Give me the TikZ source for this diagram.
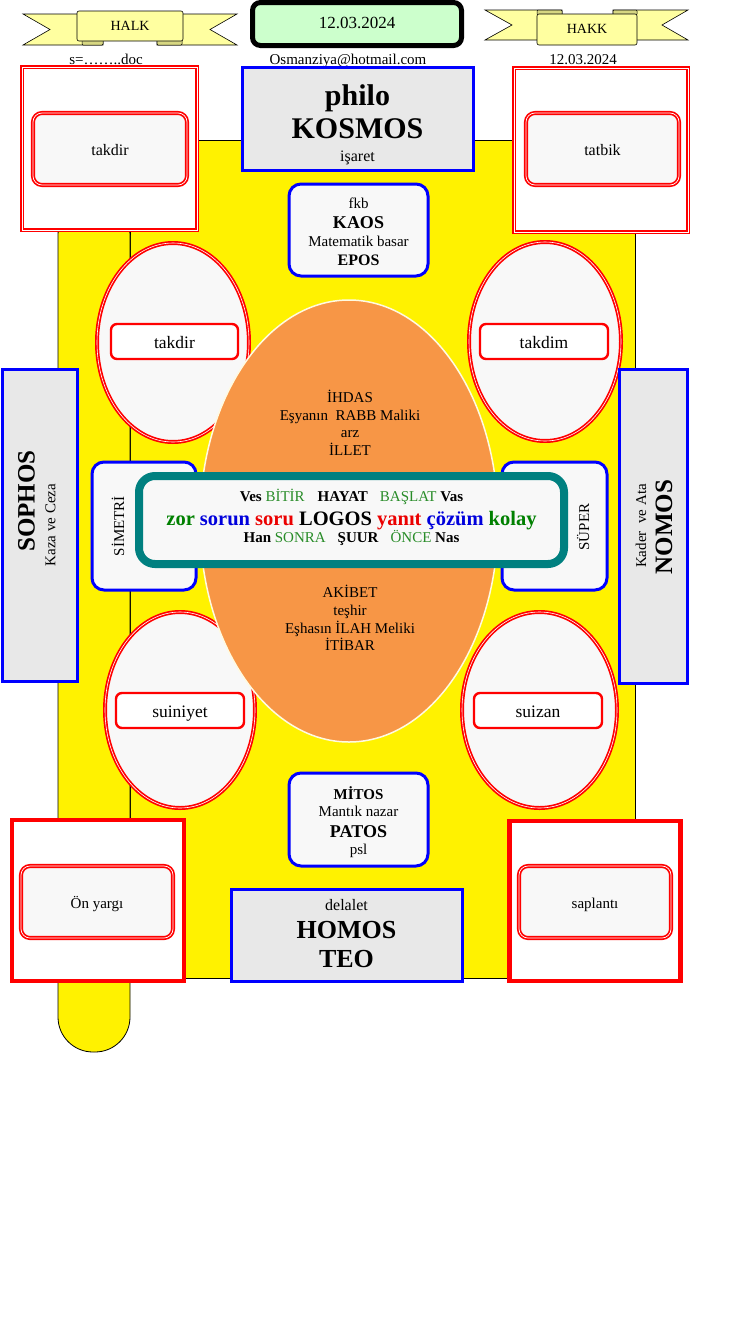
\documentclass[tikz,border=0pt]{standalone}
\usepackage{fontspec}
\setmainfont{Liberation Serif}
\usetikzlibrary{shapes.geometric,positioning}

\definecolor{ribbonfill}{RGB}{255,255,160}
\definecolor{foldfill}{RGB}{215,215,130}
\definecolor{datefill}{RGB}{204,255,204}
\definecolor{boxgray}{RGB}{232,232,232}
\definecolor{padfill}{RGB}{248,248,248}
\definecolor{eggorange}{RGB}{247,150,70}
\definecolor{eggrim}{RGB}{255,250,225}
\definecolor{logoteal}{RGB}{0,128,128}
\definecolor{wordgreen}{RGB}{0,128,0}
\definecolor{softgreen}{RGB}{40,140,40}
\definecolor{wordblue}{RGB}{0,0,220}
\definecolor{wordred}{RGB}{235,0,0}

\newcommand\fz[1]{\fontsize{#1}{#1}\selectfont}

\begin{document}
\begin{tikzpicture}[x=1pt,y=-1pt,
  txt/.style={inner sep=0pt, anchor=base},
  ribbon/.style={draw=black, line width=0.6pt, fill=ribbonfill},
  fold/.style={draw=black, line width=0.5pt, fill=foldfill, rounded corners=1pt},
  redframe/.style={draw=red, double=white, line width=1.8pt, double distance=0.7pt, fill=white, inner sep=0pt},
  redwall/.style={draw=red, line width=4.5pt, fill=white, inner sep=0pt},
  redpad/.style={draw=red, double=white, line width=1.7pt, double distance=0.7pt, fill=padfill, rounded corners=9pt, inner sep=0pt},
  redegg/.style={ellipse, draw=red, double=white, line width=1.7pt, double distance=0.6pt, fill=padfill, inner sep=0pt},
  redtag/.style={draw=red, line width=2.4pt, fill=white, rounded corners=6pt, inner sep=0pt},
  bluebox/.style={draw=blue, line width=3pt, fill=boxgray, inner sep=0pt},
  bluepad/.style={draw=blue, line width=3pt, fill=padfill, rounded corners=12pt, inner sep=0pt},
  yellowbed/.style={draw=black, line width=0.8pt, fill=yellow}]
  \useasboundingbox (0,0) rectangle (747,1328);

  % yellow bed and its tab
  \draw[yellowbed] (130,140) rectangle (635,978);
  \draw[yellowbed, rounded corners=35pt] (58,200) -- (58,1052) -- (130,1052) -- (130,200) -- cycle;

  % HALK banner
  \draw[ribbon] (23,14) -- (103,14) -- (103,45) -- (23,45) -- (50,29.5) -- cycle;
  \draw[ribbon] (157,14) -- (237,14) -- (210,29.5) -- (237,45) -- (157,45) -- cycle;
  \draw[fold] (82,38) rectangle (103,45);
  \draw[fold] (157,38) rectangle (182,45);
  \draw[ribbon, rounded corners=2pt] (77,11) rectangle (183,41);
  \node[txt, font=\fz{14}] (Halk) at (130,30) {HALK};

  % HAKK banner
  \draw[ribbon] (485,10) -- (562,10) -- (562,40) -- (485,40) -- (512,25) -- cycle;
  \draw[ribbon] (613,10) -- (688,10) -- (662,25) -- (688,40) -- (613,40) -- cycle;
  \draw[fold] (537,10) rectangle (562,15);
  \draw[fold] (613,10) rectangle (637,15);
  \draw[ribbon, rounded corners=2pt] (537,14) rectangle (637,45);
  \node[txt, font=\fz{14}] (Hakk) at (587,33) {HAKK};

  % date box
  \node[draw=black, line width=5pt, fill=datefill, rounded corners=8pt,
        minimum width=209pt, minimum height=43pt, inner sep=0pt] (Date) at (357,24) {};
  \node[txt, font=\fz{17}] (DateT) at (357,28) {12.03.2024};

  \node[txt, font=\fz{15}] (File) at (106,64) {s=……..doc};
  \node[txt, font=\fz{15}] (Mail) at (348,64) {Osmanziya@hotmail.com};
  \node[txt, font=\fz{15}] (Day) at (583,64) {12.03.2024};

  % top corner boxes
  \node[redframe, minimum width=175pt, minimum height=163pt] (HalkBox) at (109.5,148.5) {};
  \node[redpad, minimum width=154pt, minimum height=72pt] (HalkPad) at (110,149) {};
  \node[txt, font=\fz{16}] (HalkT) at (110,155) {takdir};
  \node[redframe, minimum width=174pt, minimum height=164pt] (HakkBox) at (601,150) {};
  \node[redpad, minimum width=153pt, minimum height=72pt] (HakkPad) at (602.5,149) {};
  \node[txt, font=\fz{16}] (HakkT) at (602.5,155) {tatbik};

  % KOSMOS
  \node[bluebox, minimum width=231pt, minimum height=103pt] (Kosmos) at (357.5,118.5) {};
  \node[txt, font={\fz{30}\bfseries}] (Philo) at (357.5,105) {philo};
  \node[txt, font={\fz{30}\bfseries}] (KosmosT) at (357.5,138) {KOSMOS};
  \node[txt, font=\fz{16}] (Isaret) at (357.5,161) {işaret};

  % KAOS
  \node[bluepad, minimum width=139pt, minimum height=92pt] (Kaos) at (358.5,230) {};
  \node[txt, font=\fz{15}] (Fkb) at (358.5,208) {fkb};
  \node[txt, font={\fz{18}\bfseries}] (KaosT) at (358.5,228) {KAOS};
  \node[txt, font=\fz{15}] (Basar) at (358.5,246) {Matematik basar};
  \node[txt, font={\fz{16}\bfseries}] (Epos) at (358.5,265) {EPOS};

  % four eggs
  \node[redegg, minimum width=152pt, minimum height=199pt] (EggNW) at (173,342.5) {};
  \node[redtag, minimum width=127pt, minimum height=35pt] (TagNW) at (174.5,341.5) {};
  \node[txt, font=\fz{17.5}] (TagNWT) at (174.5,348) {takdir};
  \node[redegg, minimum width=152pt, minimum height=199pt] (EggNE) at (545,341.5) {};
  \node[redtag, minimum width=128pt, minimum height=35pt] (TagNE) at (544,341.5) {};
  \node[txt, font=\fz{17.5}] (TagNET) at (544,348) {takdim};
  \node[redegg, minimum width=150pt, minimum height=196pt] (EggSW) at (180,710) {};
  \node[redtag, minimum width=128pt, minimum height=35pt] (TagSW) at (180,710.5) {};
  \node[txt, font=\fz{17.5}] (TagSWT) at (180,717) {suiniyet};
  \node[redegg, minimum width=155pt, minimum height=196pt] (EggSE) at (539.5,710) {};
  \node[redtag, minimum width=128pt, minimum height=35pt] (TagSE) at (538,710.5) {};
  \node[txt, font=\fz{17.5}] (TagSET) at (538,717) {suizan};

  % orange egg
  \node[ellipse, draw=eggrim, line width=1.5pt, fill=eggorange,
        minimum width=298pt, minimum height=442pt] (Egg) at (349,521) {};
  \node[txt, font=\fz{15}] (Ihdas) at (350,402) {İHDAS};
  \node[txt, font=\fz{15}] (Rabb) at (350,420) {Eşyanın\ \ RABB Maliki};
  \node[txt, font=\fz{15}] (Arz) at (350,437) {arz};
  \node[txt, font=\fz{15}] (Illet) at (350,455) {İLLET};
  \node[txt, font=\fz{15}] (Akibet) at (350,597) {AKİBET};
  \node[txt, font=\fz{15}] (Teshir) at (350,615) {teşhir};
  \node[txt, font=\fz{15}] (Ilah) at (350,633) {Eşhasın İLAH Meliki};
  \node[txt, font=\fz{15}] (Itibar) at (350,650) {İTİBAR};

  % side pads
  \node[bluepad, minimum width=104pt, minimum height=128pt] (Simetri) at (144,526) {};
  \node[font=\fz{15}, rotate=90, inner sep=0pt] (SimetriT) at (118,526) {SİMETRİ};
  \node[bluepad, minimum width=105pt, minimum height=128pt] (Super) at (554.5,526) {};
  \node[font=\fz{15}, rotate=90, inner sep=0pt] (SuperT) at (583,527) {SÜPER};

  % LOGOS
  \node[draw=logoteal, line width=8pt, fill=padfill, rounded corners=16pt,
        minimum width=425pt, minimum height=88pt, inner sep=0pt] (Logos) at (351.5,520) {};
  \node[txt, font=\fz{15}] (LineUp) at (351.5,501)
    {\textbf{Ves} \textcolor{softgreen}{BİTİR}\hspace{13pt}\textbf{HAYAT}\hspace{12pt}\textcolor{softgreen}{BAŞLAT} \textbf{Vas}};
  \node[txt, font={\fz{20.5}\bfseries}] (LineMid) at (351.5,525)
    {\textcolor{wordgreen}{zor} \textcolor{wordblue}{sorun} \textcolor{wordred}{soru} LOGOS \textcolor{wordred}{yanıt} \textcolor{wordblue}{çözüm} \textcolor{wordgreen}{kolay}};
  \node[txt, font=\fz{15}] (LineDown) at (351.5,542)
    {\textbf{Han} \textcolor{softgreen}{SONRA}\hspace{12pt}\textbf{ŞUUR}\hspace{12pt}\textcolor{softgreen}{ÖNCE} \textbf{Nas}};

  % SOPHOS and NOMOS
  \node[bluebox, minimum width=75pt, minimum height=312pt] (Sophos) at (39.5,525) {};
  \node[font={\fz{25}\bfseries}, rotate=90, inner sep=0pt] (SophosT) at (26.5,501) {SOPHOS};
  \node[font=\fz{15}, rotate=90, inner sep=0pt] (Kaza) at (50.5,525) {Kaza ve Ceza};
  \node[bluebox, minimum width=68pt, minimum height=314pt] (Nomos) at (653,526) {};
  \node[font=\fz{15}, rotate=90, inner sep=0pt] (Kader) at (641,526) {Kader\ \ ve Ata};
  \node[font={\fz{25}\bfseries}, rotate=90, inner sep=0pt] (NomosT) at (664,527) {NOMOS};

  % MITOS
  \node[bluepad, minimum width=139pt, minimum height=93pt] (Mitos) at (358.5,819.5) {};
  \node[txt, font={\fz{15}\bfseries}] (MitosT) at (358.5,799) {MİTOS};
  \node[txt, font=\fz{15}] (Nazar) at (358.5,816) {Mantık nazar};
  \node[txt, font={\fz{18}\bfseries}] (Patos) at (358.5,837) {PATOS};
  \node[txt, font=\fz{15}] (Psl) at (358.5,854) {psl};

  % bottom corner boxes
  \node[redwall, minimum width=172pt, minimum height=161pt] (OnBox) at (98,900.5) {};
  \node[redpad, minimum width=152pt, minimum height=72pt] (OnPad) at (97,902) {};
  \node[txt, font=\fz{15}] (OnT) at (97,908) {Ön yargı};
  \node[redwall, minimum width=171pt, minimum height=160pt] (SapBox) at (595,901) {};
  \node[redpad, minimum width=152pt, minimum height=72pt] (SapPad) at (595,902) {};
  \node[txt, font=\fz{15}] (SapT) at (595,908) {saplantı};

  % HOMOS
  \node[bluebox, minimum width=231pt, minimum height=92pt] (Homos) at (346.5,935) {};
  \node[txt, font=\fz{16}] (Delalet) at (346.5,910) {delalet};
  \node[txt, font={\fz{26}\bfseries}] (HomosT) at (346.5,938) {HOMOS};
  \node[txt, font={\fz{26}\bfseries}] (Teo) at (346.5,967) {TEO};
\end{tikzpicture}
\end{document}
